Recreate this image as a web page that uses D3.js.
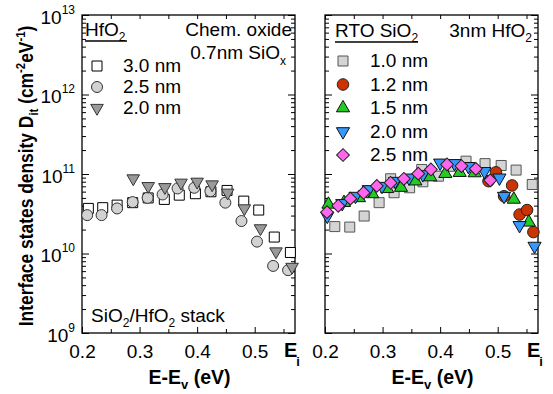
<!DOCTYPE html>
<html><head><meta charset="utf-8">
<script src="https://cdn.jsdelivr.net/npm/d3@7"></script>
<style>body{margin:0;background:#fff} svg text{font-family:"Liberation Sans",Arial,Helvetica,sans-serif;fill:#000}</style>
</head><body><svg id="c" width="553" height="394"></svg>
<script>
const xDomain = [0.2, 0.57];
const yDomain = [1e9, 1e13];
const xTicks = [0.2, 0.3, 0.4, 0.5];
const xMinorTicks = [0.25, 0.35, 0.45, 0.55];
const yTickExps = [9, 10, 11, 12, 13];

// Left panel: chem. oxide 0.7nm SiOx, HfO2 thickness
const hf30X = [0.211,0.236,0.261,0.288,0.315,0.343,0.369,0.397,0.424,0.452,0.481,0.507,0.534,0.562];
const hf30Y = [3.69e10,3.77e10,4.06e10,4.36e10,5.0e10,4.79e10,5.42e10,5.65e10,5.98e10,6.21e10,4.56e10,3.52e10,1.61e10,1.03e10];
const hf25X = [0.209,0.234,0.261,0.288,0.314,0.340,0.366,0.395,0.423,0.449,0.477,0.504,0.532,0.558];
const hf25Y = [3.04e10,3.04e10,3.69e10,4.43e10,5.01e10,5.53e10,6.58e10,6.71e10,6.08e10,4.36e10,2.56e10,1.41e10,6.98e9,6.17e9];
const hf20X = [0.289,0.315,0.344,0.372,0.400,0.426,0.453,0.482,0.510,0.537,0.565];
const hf20Y = [8.79e10,7.03e10,6.82e10,7.76e10,7.98e10,7.38e10,5.81e10,3.69e10,2.07e10,1.06e10,6.78e9];

// Right panel: 3nm HfO2, RTO SiO2 thickness
const rto10X = [0.217,0.243,0.268,0.294,0.314,0.320,0.347,0.368,0.370,0.397,0.423,0.445,0.478,0.506,0.532,0.560];
const rto10Y = [2.18e10,2.15e10,2.96e10,4.36e10,8.71e10,5.81e10,6.71e10,1.14e11,7.98e10,9.38e10,1.25e11,1.45e11,1.35e11,1.28e11,1.12e11,7.38e10];
const rto12X = [0.484,0.497,0.511,0.525,0.538,0.551,0.562];
const rto12Y = [8.13e10,1.05e11,5.25e10,7.18e10,3.09e10,3.52e10,1.86e10];
const rto15X = [0.206,0.233,0.259,0.282,0.308,0.332,0.357,0.383,0.409,0.434,0.460,0.528,0.554];
const rto15Y = [4.15e10,4.36e10,5.01e10,5.62e10,6.52e10,6.76e10,8.13e10,9.16e10,1.01e11,1.04e11,1.03e11,4.79e10,2.47e10];
const rto20X = [0.204,0.230,0.253,0.276,0.299,0.322,0.346,0.370,0.400,0.425,0.449,0.477,0.503,0.511,0.538,0.564];
const rto20Y = [2.96e10,4.27e10,5.27e10,6.4e10,7.03e10,8.13e10,8.95e10,9.86e10,1.38e11,1.36e11,1.25e11,1.08e11,8.95e10,5.27e10,2.26e10,1.24e10];
const rto25X = [0.2035,0.223,0.244,0.267,0.290,0.314,0.337,0.362,0.384,0.412,0.437,0.462,0.487];
const rto25Y = [3.31e10,3.98e10,4.9e10,5.82e10,7.08e10,7.76e10,8.71e10,1.01e11,1.14e11,1.32e11,1.26e11,1.16e11,8.32e10];

const leftLabels = ["3.0 nm", "2.5 nm", "2.0 nm"];
const rightLabels = ["1.0 nm", "1.2 nm", "1.5 nm", "2.0 nm", "2.5 nm"];

const styles = {
  sqOpen:  {type: d3.symbolSquare, size: 100, fill: "#ffffff", stroke: "#000", rot: 0},
  circGray:{type: d3.symbolCircle, size: 95, fill: "#d2d2d2", stroke: "#333", rot: 0},
  triGray: {type: d3.symbolTriangle, size: 68, fill: "#9a9a9a", stroke: "#333", rot: 180},
  sqGray:  {type: d3.symbolSquare, size: 100, fill: "#d4d4d4", stroke: "#555", rot: 0},
  circRed: {type: d3.symbolCircle, size: 105, fill: "#cc3300", stroke: "#222", rot: 0},
  triGreen:{type: d3.symbolTriangle, size: 75, fill: "#22cc22", stroke: "#111", rot: 0},
  triBlue: {type: d3.symbolTriangle, size: 75, fill: "#3399ff", stroke: "#111", rot: 180},
  diaPink: {type: d3.symbolSquare, size: 82, fill: "#ff66ee", stroke: "#222", rot: 45}
};

const svg = d3.select("#c");
const PW = 213, yTop = 15, yBottom = 333;
const FONT = 19;

function drawPanel(x0, series, showYLabels) {
  const x = d3.scaleLinear().domain(xDomain).range([x0, x0 + PW]);
  const y = d3.scaleLog().domain(yDomain).range([yBottom, yTop]);
  const g = svg.append("g");

  const minorY = [];
  for (let e = 9; e < 13; e++) for (let k = 2; k <= 9; k++) minorY.push(k * Math.pow(10, e));
  const majorY = yTickExps.map(e => Math.pow(10, e));

  const tickStyle = sel => { sel.select(".domain").remove(); sel.selectAll("line").attr("stroke", "#000").attr("stroke-width", 1); };

  g.append("g").attr("transform", `translate(0,${yBottom})`)
    .call(d3.axisBottom(x).tickValues(xTicks).tickSizeInner(-6).tickSizeOuter(0).tickPadding(11.5).tickFormat(d3.format(".1f")))
    .call(tickStyle)
    .call(s => s.selectAll("text").attr("font-size", FONT).attr("fill", "#000").attr("font-family", null));
  g.append("g").attr("transform", `translate(0,${yBottom})`)
    .call(d3.axisBottom(x).tickValues(xMinorTicks).tickSizeInner(-4).tickSizeOuter(0).tickFormat(""))
    .call(tickStyle);
  g.append("g").attr("transform", `translate(0,${yTop})`)
    .call(d3.axisTop(x).tickValues(xTicks.concat(xMinorTicks)).tickSizeInner(-4).tickSizeOuter(0).tickFormat(""))
    .call(tickStyle);
  [[d3.axisLeft, x0], [d3.axisRight, x0 + PW]].forEach(([ax, px]) => {
    g.append("g").attr("transform", `translate(${px},0)`)
      .call(ax(y).tickValues(majorY).tickSizeInner(-7).tickSizeOuter(0).tickFormat(""))
      .call(tickStyle);
    g.append("g").attr("transform", `translate(${px},0)`)
      .call(ax(y).tickValues(minorY).tickSizeInner(-4).tickSizeOuter(0).tickFormat(""))
      .call(tickStyle);
  });

  g.append("rect").attr("x", x0).attr("y", yTop).attr("width", PW).attr("height", yBottom - yTop)
    .attr("fill", "none").attr("stroke", "#000").attr("stroke-width", 1.3);

  if (showYLabels) {
    yTickExps.forEach(e => {
      const t = g.append("text").attr("x", x0 - 7).attr("y", y(Math.pow(10, e)) + 8.5)
        .attr("text-anchor", "end").attr("font-size", FONT);
      t.append("tspan").text("10");
      t.append("tspan").attr("font-size", 12).attr("dy", -10).text(e);
    });
  }

  // E_i label
  const ei = g.append("text").attr("x", x0 + PW - 11).attr("y", 357).attr("font-size", 20).attr("font-weight", "bold");
  ei.append("tspan").text("E");
  ei.append("tspan").attr("font-size", 13).attr("dy", 9).attr("dx", -1).text("i");

  // x title
  const xt = g.append("text").attr("x", x0 + PW / 2 + 1).attr("y", 384).attr("text-anchor", "middle")
    .attr("font-size", 19.5).attr("font-weight", "bold");
  xt.append("tspan").text("E-E");
  xt.append("tspan").attr("font-size", 13).attr("dy", 5).text("v");
  xt.append("tspan").attr("dy", -5).text(" (eV)");

  // data
  series.forEach(s => {
    const st = styles[s.style];
    const sym = d3.symbol().type(st.type).size(st.size);
    g.append("g").selectAll("path").data(d3.zip(s.xs, s.ys)).join("path")
      .attr("d", sym)
      .attr("transform", d => `translate(${x(d[0])},${y(d[1])}) rotate(${st.rot})`)
      .attr("fill", st.fill).attr("stroke", st.stroke).attr("stroke-width", 1);
  });
  return g;
}

function legendRow(g, style, mx, my, label, lx, ly) {
  const st = styles[style];
  g.append("path").attr("d", d3.symbol().type(st.type).size(st.size)())
    .attr("transform", `translate(${mx},${my}) rotate(${st.rot})`)
    .attr("fill", st.fill).attr("stroke", st.stroke).attr("stroke-width", 1);
  g.append("text").attr("x", lx).attr("y", ly).attr("font-size", FONT).text(label);
}

// Left panel
const gl = drawPanel(82, [
  {xs: hf30X, ys: hf30Y, style: "sqOpen"},
  {xs: hf25X, ys: hf25Y, style: "circGray"},
  {xs: hf20X, ys: hf20Y, style: "triGray"}
], true);

// Right panel
const gr = drawPanel(325, [
  {xs: rto10X, ys: rto10Y, style: "sqGray"},
  {xs: rto12X, ys: rto12Y, style: "circRed"},
  {xs: rto15X, ys: rto15Y, style: "triGreen"},
  {xs: rto20X, ys: rto20Y, style: "triBlue"},
  {xs: rto25X, ys: rto25Y, style: "diaPink"}
], false);

// Left annotations
let t = gl.append("text").attr("x", 85).attr("y", 36).attr("font-size", FONT);
t.append("tspan").text("HfO");
t.append("tspan").attr("font-size", 12).attr("dy", 5).text("2");
gl.append("line").attr("x1", 85).attr("x2", 127).attr("y1", 41).attr("y2", 41).attr("stroke", "#000").attr("stroke-width", 1.3);
gl.append("text").attr("x", 292).attr("y", 36).attr("text-anchor", "end").attr("font-size", FONT).text("Chem. oxide");
t = gl.append("text").attr("x", 286).attr("y", 59).attr("text-anchor", "end").attr("font-size", FONT);
t.append("tspan").text("0.7nm SiO");
t.append("tspan").attr("font-size", 12).attr("dy", 6).text("x");
["sqOpen", "circGray", "triGray"].forEach((s, i) => legendRow(gl, s, 97, 66 + i * 21, leftLabels[i], 123, 72 + i * 21));
t = gl.append("text").attr("x", 91).attr("y", 322).attr("font-size", FONT);
t.append("tspan").text("SiO");
t.append("tspan").attr("font-size", 12).attr("dy", 5).text("2");
t.append("tspan").attr("dy", -5).text("/HfO");
t.append("tspan").attr("font-size", 12).attr("dy", 5).text("2");
t.append("tspan").attr("dy", -5).text(" stack");

// Right annotations
t = gr.append("text").attr("x", 335).attr("y", 37).attr("font-size", FONT);
t.append("tspan").text("RTO SiO");
t.append("tspan").attr("font-size", 12).attr("dy", 5).text("2");
gr.append("line").attr("x1", 335).attr("x2", 418).attr("y1", 42).attr("y2", 42).attr("stroke", "#000").attr("stroke-width", 1.3);
t = gr.append("text").attr("x", 532).attr("y", 37).attr("text-anchor", "end").attr("font-size", FONT);
t.append("tspan").text("3nm HfO");
t.append("tspan").attr("font-size", 12).attr("dy", 5).text("2");
["sqGray", "circRed", "triGreen", "triBlue", "diaPink"].forEach((s, i) => legendRow(gr, s, 343, 61 + i * 23.5, rightLabels[i], 370, 67 + i * 23.5));

// Y axis title
t = svg.append("text").attr("transform", "translate(33,176) rotate(-90) scale(0.87,1)")
  .attr("text-anchor", "middle").attr("font-size", 20).attr("font-weight", "bold");
t.append("tspan").text("Interface states density D");
t.append("tspan").attr("font-size", 13).attr("dy", 5).text("it");
t.append("tspan").attr("dy", -5).text(" (cm");
t.append("tspan").attr("font-size", 13).attr("dy", -8).text("-2");
t.append("tspan").attr("dy", 8).text("eV");
t.append("tspan").attr("font-size", 13).attr("dy", -8).text("-1");
t.append("tspan").attr("dy", 8).text(")");
</script></body></html>
